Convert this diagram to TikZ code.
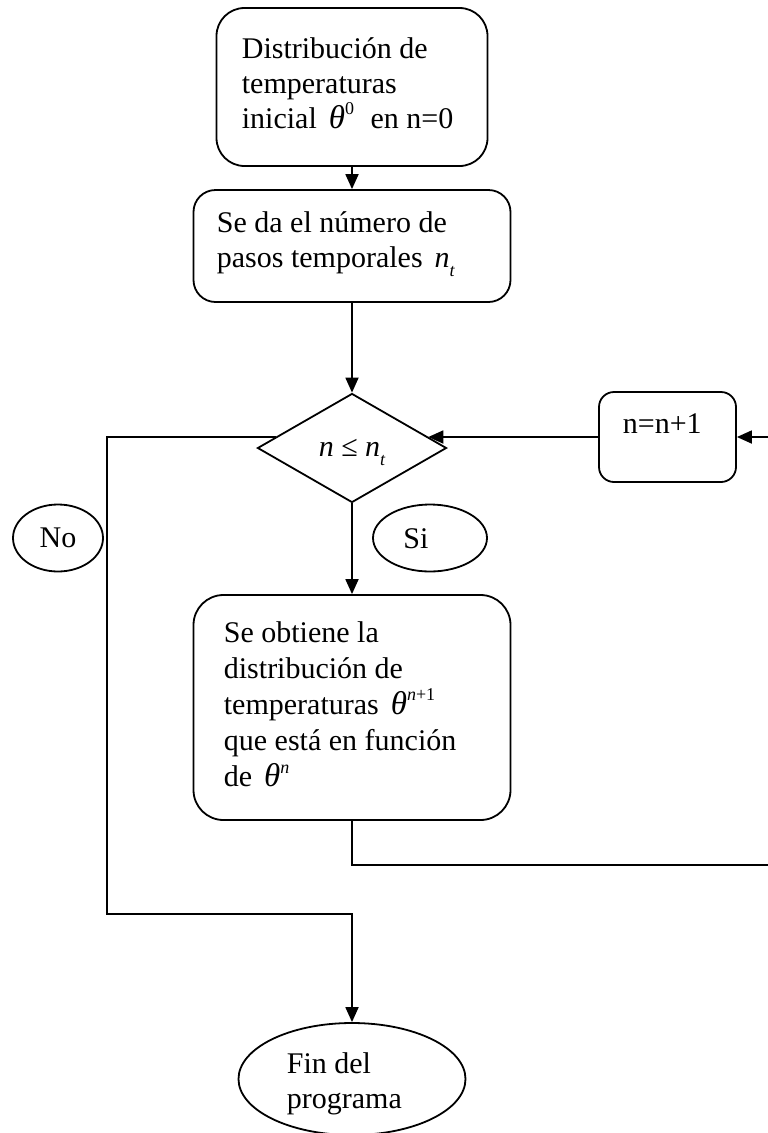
\documentclass[tikz,border=0pt]{standalone}
\usepackage{fontspec}
\setmainfont{Liberation Serif}
\usetikzlibrary{arrows.meta,shapes.geometric,calc}
\newcommand\supx[1]{\smash{\raisebox{0.45em}{\fontsize{18}{18}\selectfont #1}}}
\newcommand\subx[1]{\smash{\raisebox{-0.3em}{\fontsize{18}{18}\selectfont\itshape #1}}}
\newcommand\ith{{\fontsize{33}{35}\selectfont\textit{θ}}}
\newcommand\itn{\textit{n}}
\begin{document}
\begin{tikzpicture}[x=1pt,y=-1pt,line width=1.8pt,
  >={Triangle[length=15pt,width=13pt]},
  box/.style={draw,rectangle,rounded corners=#1,inner sep=0pt},
  box/.default=25pt,
  txt/.style={inner sep=0pt,anchor=base west,font=\fontsize{30}{35}\selectfont},
  oval/.style={draw,ellipse,inner sep=0pt,font=\fontsize{30}{35}\selectfont},
  decision/.style={draw,diamond,inner sep=0pt}]
\useasboundingbox (0,0) rectangle (768,1133);
\clip (0,0) rectangle (768,1133);
% boxes
\node[box=28pt,minimum width=271pt,minimum height=158pt] (b1) at (352,87) {};
\node[txt] (t1) at (241,58) {\begin{tabular}[t]{@{}l@{}}Distribución de\\temperaturas\\inicial\hspace{0.4em}\ith\supx{0}\hspace{0.3em} en n=0\end{tabular}};
\node[box=22pt,minimum width=317pt,minimum height=112pt] (b2) at (352,246) {};
\node[txt] (t2) at (216,232) {\begin{tabular}[t]{@{}l@{}}Se da el número de\\pasos temporales\hspace{0.4em}\itn\subx{t}\end{tabular}};
\node[decision,minimum width=189pt,minimum height=109pt] (dec) at (352,448) {};
\node[txt,anchor=base] (tdec) at (352,456) {\itn\ ≤ \itn\subx{t}};
\node[box=15pt,minimum width=137pt,minimum height=90pt] (nn1) at (667.5,437) {};
\node[txt] (tnn1) at (622,433) {n=n+1};
\node[oval,minimum width=90pt,minimum height=67pt] (no) at (58,538) {No};
\node[oval,minimum width=114pt,minimum height=67pt] (si) at (430,538) {};
\node[txt,anchor=base] (tsi) at (416,548) {Si};
\node[box=30pt,minimum width=317pt,minimum height=225pt] (b3) at (352,707.5) {};
\node[txt,font=\fontsize{30}{36.2}\selectfont] (t3) at (223,642) {\begin{tabular}[t]{@{}l@{}}Se obtiene la\\distribución de\\temperaturas\hspace{0.4em}\ith\supx{\itn+1}\\que está en función\\de\hspace{0.4em}\ith\supx{\itn}\end{tabular}};
\node[oval,minimum width=227pt,minimum height=112pt] (fin) at (352,1079) {};
\node[txt] (tfin) at (286,1073) {\begin{tabular}[t]{@{}l@{}}Fin del\\programa\end{tabular}};
% helper coordinates
\coordinate (dE) at ($(dec.north east)!0.6!(dec.east)$);
\coordinate (dW) at ($(dec.north west)!0.6!(dec.west)$);
\coordinate (lc) at (107,914);
\coordinate (rc) at (790,865);
% connectors
\draw[->] (b1.south) -- (b2.north);
\draw[->] (b2.south) -- (dec.north);
\draw[->] (dec.south) -- (b3.north);
\draw[->] (nn1.west) -- (nn1.west -| dE);
\draw[->] (nn1.west -| dW) -| (lc) -| (fin.north);
\draw[->] (b3.south) |- (rc) |- (nn1.east);
\end{tikzpicture}
\end{document}
